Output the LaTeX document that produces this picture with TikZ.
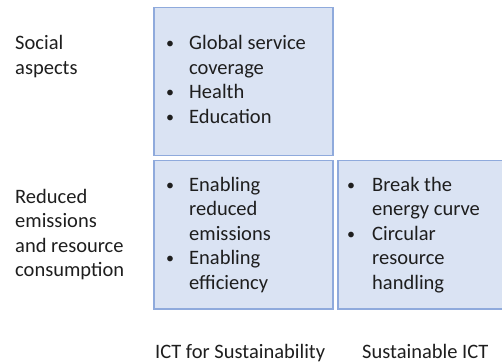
\documentclass[tikz,border=0pt]{standalone}
\usepackage{fontspec}
\setmainfont{Carlito}
\definecolor{boxfill}{HTML}{DAE3F3}
\definecolor{boxline}{HTML}{8FAADC}
\definecolor{txt}{HTML}{1E1E1E}
\begin{document}
\begin{tikzpicture}[x=1pt,y=-1pt,
  box/.style={draw=boxline, line width=1.5pt, fill=boxfill, rectangle, inner sep=0, anchor=north west},
  lbl/.style={anchor=base west, inner sep=0, font=\fontsize{20.5}{24.5}\selectfont, text=txt},
  bul/.style={anchor=base west, inner sep=0, font=\fontsize{16}{24.5}\selectfont, text=txt}]
\useasboundingbox (0,0) rectangle (502,363);
\node[box, minimum width=179pt, minimum height=148pt] (b1) at (153,7) {};
\node[box, minimum width=179pt, minimum height=148pt] (b2) at (153,160) {};
\node[box, minimum width=180pt, minimum height=148pt] (b3) at (337,160) {};
% left labels
\node[lbl] (s1) at (15,50) {Social};
\node[lbl] (s2) at (15,74.5) {aspects};
\node[lbl] (r1) at (15,203) {Reduced};
\node[lbl] (r2) at (15,227.5) {emissions};
\node[lbl] (r3) at (15,252) {and resource};
\node[lbl] (r4) at (15,276.5) {consumption};
% box 1
\node[bul] (p1a) at (166,49) {•};
\node[lbl] (t1a) at (189,50) {Global service};
\node[lbl] (t1b) at (189,74.5) {coverage};
\node[bul] (p1b) at (166,98) {•};
\node[lbl] (t1c) at (189,99) {Health};
\node[bul] (p1c) at (166,122.5) {•};
\node[lbl] (t1d) at (189,123.5) {Education};
% box 2
\node[bul] (p2a) at (166,190) {•};
\node[lbl] (t2a) at (189,191) {Enabling};
\node[lbl] (t2b) at (189,215.5) {reduced};
\node[lbl] (t2c) at (189,240) {emissions};
\node[bul] (p2b) at (166,263.5) {•};
\node[lbl] (t2d) at (189,264.5) {Enabling};
\node[lbl] (t2e) at (189,289) {efficiency};
% box 3
\node[bul] (p3a) at (347,190) {•};
\node[lbl] (t3a) at (372,191) {Break the};
\node[lbl] (t3b) at (372,215.5) {energy curve};
\node[bul] (p3b) at (347,239) {•};
\node[lbl] (t3c) at (372,240) {Circular};
\node[lbl] (t3d) at (372,264.5) {resource};
\node[lbl] (t3e) at (372,289) {handling};
% bottom labels
\node[lbl] (c1) at (155,358) {ICT for Sustainability};
\node[lbl] (c2) at (362,358) {Sustainable ICT};
\end{tikzpicture}
\end{document}
